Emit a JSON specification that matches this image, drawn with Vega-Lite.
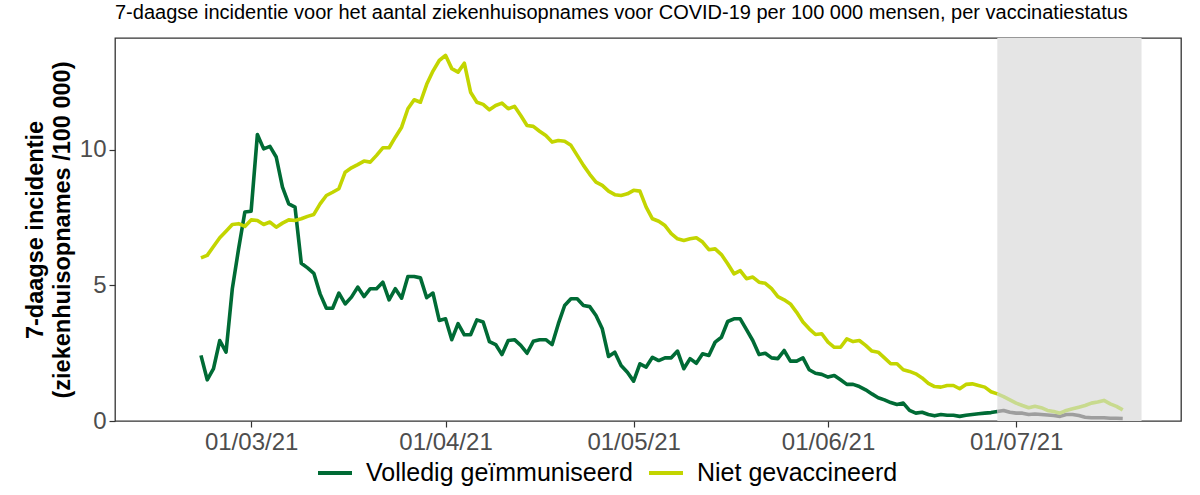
{
  "$schema": "https://vega.github.io/schema/vega-lite/v6.json",
  "width": 1066,
  "height": 383,
  "autosize": {"type": "none"},
  "padding": {"left": 115, "top": 38, "right": 19, "bottom": 74},
  "background": "white",
  "config": {
    "font": "Liberation Sans",
    "view": {"stroke": "#333333", "strokeWidth": 1.3},
    "axis": {"grid": false, "domain": false, "tickColor": "#333333", "tickSize": 6, "tickWidth": 1.2, "labelColor": "#4d4d4d", "labelFontSize": 24, "labelFont": "Liberation Sans"}
  },
  "title": {"text": "7-daagse incidentie voor het aantal ziekenhuisopnames voor COVID-19 per 100 000 mensen, per vaccinatiestatus", "anchor": "start", "frame": "group", "fontSize": 20, "fontWeight": "normal", "color": "#000000", "offset": 15, "font": "Liberation Sans"},
  "datasets": {
    "schaduw": [{"start": "2021-06-28", "eind": "2021-07-21"}],
    "reeksen": [
      {"datum": "2021-02-21", "status": "Volledig geïmmuniseerd", "waarde": 2.42},
      {"datum": "2021-02-22", "status": "Volledig geïmmuniseerd", "waarde": 1.52},
      {"datum": "2021-02-23", "status": "Volledig geïmmuniseerd", "waarde": 1.93},
      {"datum": "2021-02-24", "status": "Volledig geïmmuniseerd", "waarde": 2.97},
      {"datum": "2021-02-25", "status": "Volledig geïmmuniseerd", "waarde": 2.54},
      {"datum": "2021-02-26", "status": "Volledig geïmmuniseerd", "waarde": 4.88},
      {"datum": "2021-02-27", "status": "Volledig geïmmuniseerd", "waarde": 6.35},
      {"datum": "2021-02-28", "status": "Volledig geïmmuniseerd", "waarde": 7.71},
      {"datum": "2021-03-01", "status": "Volledig geïmmuniseerd", "waarde": 7.74},
      {"datum": "2021-03-02", "status": "Volledig geïmmuniseerd", "waarde": 10.57},
      {"datum": "2021-03-03", "status": "Volledig geïmmuniseerd", "waarde": 10.04},
      {"datum": "2021-03-04", "status": "Volledig geïmmuniseerd", "waarde": 10.13},
      {"datum": "2021-03-05", "status": "Volledig geïmmuniseerd", "waarde": 9.74},
      {"datum": "2021-03-06", "status": "Volledig geïmmuniseerd", "waarde": 8.63},
      {"datum": "2021-03-07", "status": "Volledig geïmmuniseerd", "waarde": 8.01},
      {"datum": "2021-03-08", "status": "Volledig geïmmuniseerd", "waarde": 7.89},
      {"datum": "2021-03-09", "status": "Volledig geïmmuniseerd", "waarde": 5.82},
      {"datum": "2021-03-10", "status": "Volledig geïmmuniseerd", "waarde": 5.65},
      {"datum": "2021-03-11", "status": "Volledig geïmmuniseerd", "waarde": 5.45},
      {"datum": "2021-03-12", "status": "Volledig geïmmuniseerd", "waarde": 4.69},
      {"datum": "2021-03-13", "status": "Volledig geïmmuniseerd", "waarde": 4.16},
      {"datum": "2021-03-14", "status": "Volledig geïmmuniseerd", "waarde": 4.16},
      {"datum": "2021-03-15", "status": "Volledig geïmmuniseerd", "waarde": 4.72},
      {"datum": "2021-03-16", "status": "Volledig geïmmuniseerd", "waarde": 4.32},
      {"datum": "2021-03-17", "status": "Volledig geïmmuniseerd", "waarde": 4.57},
      {"datum": "2021-03-18", "status": "Volledig geïmmuniseerd", "waarde": 4.94},
      {"datum": "2021-03-19", "status": "Volledig geïmmuniseerd", "waarde": 4.59},
      {"datum": "2021-03-20", "status": "Volledig geïmmuniseerd", "waarde": 4.88},
      {"datum": "2021-03-21", "status": "Volledig geïmmuniseerd", "waarde": 4.88},
      {"datum": "2021-03-22", "status": "Volledig geïmmuniseerd", "waarde": 5.12},
      {"datum": "2021-03-23", "status": "Volledig geïmmuniseerd", "waarde": 4.47},
      {"datum": "2021-03-24", "status": "Volledig geïmmuniseerd", "waarde": 4.88},
      {"datum": "2021-03-25", "status": "Volledig geïmmuniseerd", "waarde": 4.53},
      {"datum": "2021-03-26", "status": "Volledig geïmmuniseerd", "waarde": 5.33},
      {"datum": "2021-03-27", "status": "Volledig geïmmuniseerd", "waarde": 5.33},
      {"datum": "2021-03-28", "status": "Volledig geïmmuniseerd", "waarde": 5.28},
      {"datum": "2021-03-29", "status": "Volledig geïmmuniseerd", "waarde": 4.55},
      {"datum": "2021-03-30", "status": "Volledig geïmmuniseerd", "waarde": 4.72},
      {"datum": "2021-03-31", "status": "Volledig geïmmuniseerd", "waarde": 3.71},
      {"datum": "2021-04-01", "status": "Volledig geïmmuniseerd", "waarde": 3.77},
      {"datum": "2021-04-02", "status": "Volledig geïmmuniseerd", "waarde": 3.00},
      {"datum": "2021-04-03", "status": "Volledig geïmmuniseerd", "waarde": 3.59},
      {"datum": "2021-04-04", "status": "Volledig geïmmuniseerd", "waarde": 3.18},
      {"datum": "2021-04-05", "status": "Volledig geïmmuniseerd", "waarde": 3.18},
      {"datum": "2021-04-06", "status": "Volledig geïmmuniseerd", "waarde": 3.73},
      {"datum": "2021-04-07", "status": "Volledig geïmmuniseerd", "waarde": 3.65},
      {"datum": "2021-04-08", "status": "Volledig geïmmuniseerd", "waarde": 2.93},
      {"datum": "2021-04-09", "status": "Volledig geïmmuniseerd", "waarde": 2.82},
      {"datum": "2021-04-10", "status": "Volledig geïmmuniseerd", "waarde": 2.45},
      {"datum": "2021-04-11", "status": "Volledig geïmmuniseerd", "waarde": 2.97},
      {"datum": "2021-04-12", "status": "Volledig geïmmuniseerd", "waarde": 3.00},
      {"datum": "2021-04-13", "status": "Volledig geïmmuniseerd", "waarde": 2.79},
      {"datum": "2021-04-14", "status": "Volledig geïmmuniseerd", "waarde": 2.50},
      {"datum": "2021-04-15", "status": "Volledig geïmmuniseerd", "waarde": 2.94},
      {"datum": "2021-04-16", "status": "Volledig geïmmuniseerd", "waarde": 3.00},
      {"datum": "2021-04-17", "status": "Volledig geïmmuniseerd", "waarde": 3.00},
      {"datum": "2021-04-18", "status": "Volledig geïmmuniseerd", "waarde": 2.82},
      {"datum": "2021-04-19", "status": "Volledig geïmmuniseerd", "waarde": 3.59},
      {"datum": "2021-04-20", "status": "Volledig geïmmuniseerd", "waarde": 4.26},
      {"datum": "2021-04-21", "status": "Volledig geïmmuniseerd", "waarde": 4.51},
      {"datum": "2021-04-22", "status": "Volledig geïmmuniseerd", "waarde": 4.51},
      {"datum": "2021-04-23", "status": "Volledig geïmmuniseerd", "waarde": 4.26},
      {"datum": "2021-04-24", "status": "Volledig geïmmuniseerd", "waarde": 4.22},
      {"datum": "2021-04-25", "status": "Volledig geïmmuniseerd", "waarde": 3.89},
      {"datum": "2021-04-26", "status": "Volledig geïmmuniseerd", "waarde": 3.40},
      {"datum": "2021-04-27", "status": "Volledig geïmmuniseerd", "waarde": 2.38},
      {"datum": "2021-04-28", "status": "Volledig geïmmuniseerd", "waarde": 2.54},
      {"datum": "2021-04-29", "status": "Volledig geïmmuniseerd", "waarde": 2.05},
      {"datum": "2021-04-30", "status": "Volledig geïmmuniseerd", "waarde": 1.80},
      {"datum": "2021-05-01", "status": "Volledig geïmmuniseerd", "waarde": 1.47},
      {"datum": "2021-05-02", "status": "Volledig geïmmuniseerd", "waarde": 2.11},
      {"datum": "2021-05-03", "status": "Volledig geïmmuniseerd", "waarde": 1.99},
      {"datum": "2021-05-04", "status": "Volledig geïmmuniseerd", "waarde": 2.35},
      {"datum": "2021-05-05", "status": "Volledig geïmmuniseerd", "waarde": 2.23},
      {"datum": "2021-05-06", "status": "Volledig geïmmuniseerd", "waarde": 2.33},
      {"datum": "2021-05-07", "status": "Volledig geïmmuniseerd", "waarde": 2.33},
      {"datum": "2021-05-08", "status": "Volledig geïmmuniseerd", "waarde": 2.58},
      {"datum": "2021-05-09", "status": "Volledig geïmmuniseerd", "waarde": 1.93},
      {"datum": "2021-05-10", "status": "Volledig geïmmuniseerd", "waarde": 2.30},
      {"datum": "2021-05-11", "status": "Volledig geïmmuniseerd", "waarde": 2.13},
      {"datum": "2021-05-12", "status": "Volledig geïmmuniseerd", "waarde": 2.48},
      {"datum": "2021-05-13", "status": "Volledig geïmmuniseerd", "waarde": 2.42},
      {"datum": "2021-05-14", "status": "Volledig geïmmuniseerd", "waarde": 2.91},
      {"datum": "2021-05-15", "status": "Volledig geïmmuniseerd", "waarde": 3.09},
      {"datum": "2021-05-16", "status": "Volledig geïmmuniseerd", "waarde": 3.67},
      {"datum": "2021-05-17", "status": "Volledig geïmmuniseerd", "waarde": 3.77},
      {"datum": "2021-05-18", "status": "Volledig geïmmuniseerd", "waarde": 3.77},
      {"datum": "2021-05-19", "status": "Volledig geïmmuniseerd", "waarde": 3.37},
      {"datum": "2021-05-20", "status": "Volledig geïmmuniseerd", "waarde": 2.97},
      {"datum": "2021-05-21", "status": "Volledig geïmmuniseerd", "waarde": 2.45},
      {"datum": "2021-05-22", "status": "Volledig geïmmuniseerd", "waarde": 2.50},
      {"datum": "2021-05-23", "status": "Volledig geïmmuniseerd", "waarde": 2.33},
      {"datum": "2021-05-24", "status": "Volledig geïmmuniseerd", "waarde": 2.30},
      {"datum": "2021-05-25", "status": "Volledig geïmmuniseerd", "waarde": 2.60},
      {"datum": "2021-05-26", "status": "Volledig geïmmuniseerd", "waarde": 2.21},
      {"datum": "2021-05-27", "status": "Volledig geïmmuniseerd", "waarde": 2.21},
      {"datum": "2021-05-28", "status": "Volledig geïmmuniseerd", "waarde": 2.33},
      {"datum": "2021-05-29", "status": "Volledig geïmmuniseerd", "waarde": 1.89},
      {"datum": "2021-05-30", "status": "Volledig geïmmuniseerd", "waarde": 1.76},
      {"datum": "2021-05-31", "status": "Volledig geïmmuniseerd", "waarde": 1.72},
      {"datum": "2021-06-01", "status": "Volledig geïmmuniseerd", "waarde": 1.62},
      {"datum": "2021-06-02", "status": "Volledig geïmmuniseerd", "waarde": 1.68},
      {"datum": "2021-06-03", "status": "Volledig geïmmuniseerd", "waarde": 1.52},
      {"datum": "2021-06-04", "status": "Volledig geïmmuniseerd", "waarde": 1.35},
      {"datum": "2021-06-05", "status": "Volledig geïmmuniseerd", "waarde": 1.35},
      {"datum": "2021-06-06", "status": "Volledig geïmmuniseerd", "waarde": 1.27},
      {"datum": "2021-06-07", "status": "Volledig geïmmuniseerd", "waarde": 1.15},
      {"datum": "2021-06-08", "status": "Volledig geïmmuniseerd", "waarde": 1.00},
      {"datum": "2021-06-09", "status": "Volledig geïmmuniseerd", "waarde": 0.86},
      {"datum": "2021-06-10", "status": "Volledig geïmmuniseerd", "waarde": 0.78},
      {"datum": "2021-06-11", "status": "Volledig geïmmuniseerd", "waarde": 0.68},
      {"datum": "2021-06-12", "status": "Volledig geïmmuniseerd", "waarde": 0.61},
      {"datum": "2021-06-13", "status": "Volledig geïmmuniseerd", "waarde": 0.66},
      {"datum": "2021-06-14", "status": "Volledig geïmmuniseerd", "waarde": 0.39},
      {"datum": "2021-06-15", "status": "Volledig geïmmuniseerd", "waarde": 0.29},
      {"datum": "2021-06-16", "status": "Volledig geïmmuniseerd", "waarde": 0.32},
      {"datum": "2021-06-17", "status": "Volledig geïmmuniseerd", "waarde": 0.24},
      {"datum": "2021-06-18", "status": "Volledig geïmmuniseerd", "waarde": 0.19},
      {"datum": "2021-06-19", "status": "Volledig geïmmuniseerd", "waarde": 0.24},
      {"datum": "2021-06-20", "status": "Volledig geïmmuniseerd", "waarde": 0.21},
      {"datum": "2021-06-21", "status": "Volledig geïmmuniseerd", "waarde": 0.21},
      {"datum": "2021-06-22", "status": "Volledig geïmmuniseerd", "waarde": 0.17},
      {"datum": "2021-06-23", "status": "Volledig geïmmuniseerd", "waarde": 0.21},
      {"datum": "2021-06-24", "status": "Volledig geïmmuniseerd", "waarde": 0.24},
      {"datum": "2021-06-25", "status": "Volledig geïmmuniseerd", "waarde": 0.27},
      {"datum": "2021-06-26", "status": "Volledig geïmmuniseerd", "waarde": 0.29},
      {"datum": "2021-06-27", "status": "Volledig geïmmuniseerd", "waarde": 0.31},
      {"datum": "2021-06-28", "status": "Volledig geïmmuniseerd", "waarde": 0.35},
      {"datum": "2021-02-21", "status": "Niet gevaccineerd", "waarde": 6.02},
      {"datum": "2021-02-22", "status": "Niet gevaccineerd", "waarde": 6.11},
      {"datum": "2021-02-23", "status": "Niet gevaccineerd", "waarde": 6.44},
      {"datum": "2021-02-24", "status": "Niet gevaccineerd", "waarde": 6.76},
      {"datum": "2021-02-25", "status": "Niet gevaccineerd", "waarde": 7.00},
      {"datum": "2021-02-26", "status": "Niet gevaccineerd", "waarde": 7.25},
      {"datum": "2021-02-27", "status": "Niet gevaccineerd", "waarde": 7.28},
      {"datum": "2021-02-28", "status": "Niet gevaccineerd", "waarde": 7.18},
      {"datum": "2021-03-01", "status": "Niet gevaccineerd", "waarde": 7.42},
      {"datum": "2021-03-02", "status": "Niet gevaccineerd", "waarde": 7.40},
      {"datum": "2021-03-03", "status": "Niet gevaccineerd", "waarde": 7.25},
      {"datum": "2021-03-04", "status": "Niet gevaccineerd", "waarde": 7.34},
      {"datum": "2021-03-05", "status": "Niet gevaccineerd", "waarde": 7.15},
      {"datum": "2021-03-06", "status": "Niet gevaccineerd", "waarde": 7.30},
      {"datum": "2021-03-07", "status": "Niet gevaccineerd", "waarde": 7.42},
      {"datum": "2021-03-08", "status": "Niet gevaccineerd", "waarde": 7.40},
      {"datum": "2021-03-09", "status": "Niet gevaccineerd", "waarde": 7.46},
      {"datum": "2021-03-10", "status": "Niet gevaccineerd", "waarde": 7.55},
      {"datum": "2021-03-11", "status": "Niet gevaccineerd", "waarde": 7.62},
      {"datum": "2021-03-12", "status": "Niet gevaccineerd", "waarde": 8.01},
      {"datum": "2021-03-13", "status": "Niet gevaccineerd", "waarde": 8.32},
      {"datum": "2021-03-14", "status": "Niet gevaccineerd", "waarde": 8.44},
      {"datum": "2021-03-15", "status": "Niet gevaccineerd", "waarde": 8.57},
      {"datum": "2021-03-16", "status": "Niet gevaccineerd", "waarde": 9.18},
      {"datum": "2021-03-17", "status": "Niet gevaccineerd", "waarde": 9.34},
      {"datum": "2021-03-18", "status": "Niet gevaccineerd", "waarde": 9.46},
      {"datum": "2021-03-19", "status": "Niet gevaccineerd", "waarde": 9.59},
      {"datum": "2021-03-20", "status": "Niet gevaccineerd", "waarde": 9.55},
      {"datum": "2021-03-21", "status": "Niet gevaccineerd", "waarde": 9.80},
      {"datum": "2021-03-22", "status": "Niet gevaccineerd", "waarde": 10.08},
      {"datum": "2021-03-23", "status": "Niet gevaccineerd", "waarde": 10.08},
      {"datum": "2021-03-24", "status": "Niet gevaccineerd", "waarde": 10.47},
      {"datum": "2021-03-25", "status": "Niet gevaccineerd", "waarde": 10.84},
      {"datum": "2021-03-26", "status": "Niet gevaccineerd", "waarde": 11.52},
      {"datum": "2021-03-27", "status": "Niet gevaccineerd", "waarde": 11.85},
      {"datum": "2021-03-28", "status": "Niet gevaccineerd", "waarde": 11.76},
      {"datum": "2021-03-29", "status": "Niet gevaccineerd", "waarde": 12.42},
      {"datum": "2021-03-30", "status": "Niet gevaccineerd", "waarde": 12.91},
      {"datum": "2021-03-31", "status": "Niet gevaccineerd", "waarde": 13.30},
      {"datum": "2021-04-01", "status": "Niet gevaccineerd", "waarde": 13.49},
      {"datum": "2021-04-02", "status": "Niet gevaccineerd", "waarde": 13.00},
      {"datum": "2021-04-03", "status": "Niet gevaccineerd", "waarde": 12.87},
      {"datum": "2021-04-04", "status": "Niet gevaccineerd", "waarde": 13.20},
      {"datum": "2021-04-05", "status": "Niet gevaccineerd", "waarde": 12.13},
      {"datum": "2021-04-06", "status": "Niet gevaccineerd", "waarde": 11.76},
      {"datum": "2021-04-07", "status": "Niet gevaccineerd", "waarde": 11.68},
      {"datum": "2021-04-08", "status": "Niet gevaccineerd", "waarde": 11.48},
      {"datum": "2021-04-09", "status": "Niet gevaccineerd", "waarde": 11.64},
      {"datum": "2021-04-10", "status": "Niet gevaccineerd", "waarde": 11.73},
      {"datum": "2021-04-11", "status": "Niet gevaccineerd", "waarde": 11.52},
      {"datum": "2021-04-12", "status": "Niet gevaccineerd", "waarde": 11.61},
      {"datum": "2021-04-13", "status": "Niet gevaccineerd", "waarde": 11.27},
      {"datum": "2021-04-14", "status": "Niet gevaccineerd", "waarde": 10.90},
      {"datum": "2021-04-15", "status": "Niet gevaccineerd", "waarde": 10.87},
      {"datum": "2021-04-16", "status": "Niet gevaccineerd", "waarde": 10.69},
      {"datum": "2021-04-17", "status": "Niet gevaccineerd", "waarde": 10.53},
      {"datum": "2021-04-18", "status": "Niet gevaccineerd", "waarde": 10.29},
      {"datum": "2021-04-19", "status": "Niet gevaccineerd", "waarde": 10.35},
      {"datum": "2021-04-20", "status": "Niet gevaccineerd", "waarde": 10.32},
      {"datum": "2021-04-21", "status": "Niet gevaccineerd", "waarde": 10.17},
      {"datum": "2021-04-22", "status": "Niet gevaccineerd", "waarde": 9.80},
      {"datum": "2021-04-23", "status": "Niet gevaccineerd", "waarde": 9.43},
      {"datum": "2021-04-24", "status": "Niet gevaccineerd", "waarde": 9.10},
      {"datum": "2021-04-25", "status": "Niet gevaccineerd", "waarde": 8.81},
      {"datum": "2021-04-26", "status": "Niet gevaccineerd", "waarde": 8.69},
      {"datum": "2021-04-27", "status": "Niet gevaccineerd", "waarde": 8.48},
      {"datum": "2021-04-28", "status": "Niet gevaccineerd", "waarde": 8.35},
      {"datum": "2021-04-29", "status": "Niet gevaccineerd", "waarde": 8.32},
      {"datum": "2021-04-30", "status": "Niet gevaccineerd", "waarde": 8.38},
      {"datum": "2021-05-01", "status": "Niet gevaccineerd", "waarde": 8.51},
      {"datum": "2021-05-02", "status": "Niet gevaccineerd", "waarde": 8.48},
      {"datum": "2021-05-03", "status": "Niet gevaccineerd", "waarde": 7.89},
      {"datum": "2021-05-04", "status": "Niet gevaccineerd", "waarde": 7.46},
      {"datum": "2021-05-05", "status": "Niet gevaccineerd", "waarde": 7.37},
      {"datum": "2021-05-06", "status": "Niet gevaccineerd", "waarde": 7.21},
      {"datum": "2021-05-07", "status": "Niet gevaccineerd", "waarde": 6.91},
      {"datum": "2021-05-08", "status": "Niet gevaccineerd", "waarde": 6.72},
      {"datum": "2021-05-09", "status": "Niet gevaccineerd", "waarde": 6.66},
      {"datum": "2021-05-10", "status": "Niet gevaccineerd", "waarde": 6.72},
      {"datum": "2021-05-11", "status": "Niet gevaccineerd", "waarde": 6.76},
      {"datum": "2021-05-12", "status": "Niet gevaccineerd", "waarde": 6.60},
      {"datum": "2021-05-13", "status": "Niet gevaccineerd", "waarde": 6.32},
      {"datum": "2021-05-14", "status": "Niet gevaccineerd", "waarde": 6.35},
      {"datum": "2021-05-15", "status": "Niet gevaccineerd", "waarde": 6.14},
      {"datum": "2021-05-16", "status": "Niet gevaccineerd", "waarde": 5.80},
      {"datum": "2021-05-17", "status": "Niet gevaccineerd", "waarde": 5.43},
      {"datum": "2021-05-18", "status": "Niet gevaccineerd", "waarde": 5.55},
      {"datum": "2021-05-19", "status": "Niet gevaccineerd", "waarde": 5.25},
      {"datum": "2021-05-20", "status": "Niet gevaccineerd", "waarde": 5.31},
      {"datum": "2021-05-21", "status": "Niet gevaccineerd", "waarde": 5.12},
      {"datum": "2021-05-22", "status": "Niet gevaccineerd", "waarde": 5.08},
      {"datum": "2021-05-23", "status": "Niet gevaccineerd", "waarde": 4.88},
      {"datum": "2021-05-24", "status": "Niet gevaccineerd", "waarde": 4.59},
      {"datum": "2021-05-25", "status": "Niet gevaccineerd", "waarde": 4.47},
      {"datum": "2021-05-26", "status": "Niet gevaccineerd", "waarde": 4.32},
      {"datum": "2021-05-27", "status": "Niet gevaccineerd", "waarde": 4.01},
      {"datum": "2021-05-28", "status": "Niet gevaccineerd", "waarde": 3.65},
      {"datum": "2021-05-29", "status": "Niet gevaccineerd", "waarde": 3.40},
      {"datum": "2021-05-30", "status": "Niet gevaccineerd", "waarde": 3.19},
      {"datum": "2021-05-31", "status": "Niet gevaccineerd", "waarde": 3.22},
      {"datum": "2021-06-01", "status": "Niet gevaccineerd", "waarde": 2.91},
      {"datum": "2021-06-02", "status": "Niet gevaccineerd", "waarde": 2.72},
      {"datum": "2021-06-03", "status": "Niet gevaccineerd", "waarde": 2.72},
      {"datum": "2021-06-04", "status": "Niet gevaccineerd", "waarde": 3.03},
      {"datum": "2021-06-05", "status": "Niet gevaccineerd", "waarde": 2.93},
      {"datum": "2021-06-06", "status": "Niet gevaccineerd", "waarde": 2.97},
      {"datum": "2021-06-07", "status": "Niet gevaccineerd", "waarde": 2.79},
      {"datum": "2021-06-08", "status": "Niet gevaccineerd", "waarde": 2.58},
      {"datum": "2021-06-09", "status": "Niet gevaccineerd", "waarde": 2.54},
      {"datum": "2021-06-10", "status": "Niet gevaccineerd", "waarde": 2.33},
      {"datum": "2021-06-11", "status": "Niet gevaccineerd", "waarde": 2.11},
      {"datum": "2021-06-12", "status": "Niet gevaccineerd", "waarde": 2.11},
      {"datum": "2021-06-13", "status": "Niet gevaccineerd", "waarde": 1.89},
      {"datum": "2021-06-14", "status": "Niet gevaccineerd", "waarde": 1.83},
      {"datum": "2021-06-15", "status": "Niet gevaccineerd", "waarde": 1.74},
      {"datum": "2021-06-16", "status": "Niet gevaccineerd", "waarde": 1.59},
      {"datum": "2021-06-17", "status": "Niet gevaccineerd", "waarde": 1.39},
      {"datum": "2021-06-18", "status": "Niet gevaccineerd", "waarde": 1.27},
      {"datum": "2021-06-19", "status": "Niet gevaccineerd", "waarde": 1.25},
      {"datum": "2021-06-20", "status": "Niet gevaccineerd", "waarde": 1.31},
      {"datum": "2021-06-21", "status": "Niet gevaccineerd", "waarde": 1.31},
      {"datum": "2021-06-22", "status": "Niet gevaccineerd", "waarde": 1.19},
      {"datum": "2021-06-23", "status": "Niet gevaccineerd", "waarde": 1.35},
      {"datum": "2021-06-24", "status": "Niet gevaccineerd", "waarde": 1.37},
      {"datum": "2021-06-25", "status": "Niet gevaccineerd", "waarde": 1.31},
      {"datum": "2021-06-26", "status": "Niet gevaccineerd", "waarde": 1.25},
      {"datum": "2021-06-27", "status": "Niet gevaccineerd", "waarde": 1.08},
      {"datum": "2021-06-28", "status": "Niet gevaccineerd", "waarde": 1.00},
      {"datum": "2021-06-28", "status": "Volledig geïmmuniseerd (voorlopig)", "waarde": 0.35},
      {"datum": "2021-06-29", "status": "Volledig geïmmuniseerd (voorlopig)", "waarde": 0.39},
      {"datum": "2021-06-30", "status": "Volledig geïmmuniseerd (voorlopig)", "waarde": 0.32},
      {"datum": "2021-07-01", "status": "Volledig geïmmuniseerd (voorlopig)", "waarde": 0.29},
      {"datum": "2021-07-02", "status": "Volledig geïmmuniseerd (voorlopig)", "waarde": 0.29},
      {"datum": "2021-07-03", "status": "Volledig geïmmuniseerd (voorlopig)", "waarde": 0.24},
      {"datum": "2021-07-04", "status": "Volledig geïmmuniseerd (voorlopig)", "waarde": 0.26},
      {"datum": "2021-07-05", "status": "Volledig geïmmuniseerd (voorlopig)", "waarde": 0.24},
      {"datum": "2021-07-06", "status": "Volledig geïmmuniseerd (voorlopig)", "waarde": 0.22},
      {"datum": "2021-07-07", "status": "Volledig geïmmuniseerd (voorlopig)", "waarde": 0.20},
      {"datum": "2021-07-08", "status": "Volledig geïmmuniseerd (voorlopig)", "waarde": 0.17},
      {"datum": "2021-07-09", "status": "Volledig geïmmuniseerd (voorlopig)", "waarde": 0.24},
      {"datum": "2021-07-10", "status": "Volledig geïmmuniseerd (voorlopig)", "waarde": 0.24},
      {"datum": "2021-07-11", "status": "Volledig geïmmuniseerd (voorlopig)", "waarde": 0.20},
      {"datum": "2021-07-12", "status": "Volledig geïmmuniseerd (voorlopig)", "waarde": 0.14},
      {"datum": "2021-07-13", "status": "Volledig geïmmuniseerd (voorlopig)", "waarde": 0.12},
      {"datum": "2021-07-14", "status": "Volledig geïmmuniseerd (voorlopig)", "waarde": 0.12},
      {"datum": "2021-07-15", "status": "Volledig geïmmuniseerd (voorlopig)", "waarde": 0.12},
      {"datum": "2021-07-16", "status": "Volledig geïmmuniseerd (voorlopig)", "waarde": 0.10},
      {"datum": "2021-07-17", "status": "Volledig geïmmuniseerd (voorlopig)", "waarde": 0.10},
      {"datum": "2021-07-18", "status": "Volledig geïmmuniseerd (voorlopig)", "waarde": 0.09},
      {"datum": "2021-06-28", "status": "Niet gevaccineerd (voorlopig)", "waarde": 1.00},
      {"datum": "2021-06-29", "status": "Niet gevaccineerd (voorlopig)", "waarde": 0.90},
      {"datum": "2021-06-30", "status": "Niet gevaccineerd (voorlopig)", "waarde": 0.78},
      {"datum": "2021-07-01", "status": "Niet gevaccineerd (voorlopig)", "waarde": 0.66},
      {"datum": "2021-07-02", "status": "Niet gevaccineerd (voorlopig)", "waarde": 0.57},
      {"datum": "2021-07-03", "status": "Niet gevaccineerd (voorlopig)", "waarde": 0.49},
      {"datum": "2021-07-04", "status": "Niet gevaccineerd (voorlopig)", "waarde": 0.54},
      {"datum": "2021-07-05", "status": "Niet gevaccineerd (voorlopig)", "waarde": 0.49},
      {"datum": "2021-07-06", "status": "Niet gevaccineerd (voorlopig)", "waarde": 0.39},
      {"datum": "2021-07-07", "status": "Niet gevaccineerd (voorlopig)", "waarde": 0.35},
      {"datum": "2021-07-08", "status": "Niet gevaccineerd (voorlopig)", "waarde": 0.29},
      {"datum": "2021-07-09", "status": "Niet gevaccineerd (voorlopig)", "waarde": 0.39},
      {"datum": "2021-07-10", "status": "Niet gevaccineerd (voorlopig)", "waarde": 0.45},
      {"datum": "2021-07-11", "status": "Niet gevaccineerd (voorlopig)", "waarde": 0.51},
      {"datum": "2021-07-12", "status": "Niet gevaccineerd (voorlopig)", "waarde": 0.57},
      {"datum": "2021-07-13", "status": "Niet gevaccineerd (voorlopig)", "waarde": 0.66},
      {"datum": "2021-07-14", "status": "Niet gevaccineerd (voorlopig)", "waarde": 0.70},
      {"datum": "2021-07-15", "status": "Niet gevaccineerd (voorlopig)", "waarde": 0.76},
      {"datum": "2021-07-16", "status": "Niet gevaccineerd (voorlopig)", "waarde": 0.63},
      {"datum": "2021-07-17", "status": "Niet gevaccineerd (voorlopig)", "waarde": 0.54},
      {"datum": "2021-07-18", "status": "Niet gevaccineerd (voorlopig)", "waarde": 0.41}
    ]
  },
  "layer": [
    {
      "data": {"name": "schaduw"},
      "mark": {"type": "rect", "color": "#e5e5e5"},
      "encoding": {
        "x": {"field": "start", "type": "temporal", "title": null},
        "x2": {"field": "eind"}
      }
    },
    {
      "data": {"name": "reeksen"},
      "mark": {"type": "line", "strokeWidth": 3.6, "strokeJoin": "round"},
      "encoding": {
        "x": {
          "field": "datum", "type": "temporal", "title": null,
          "scale": {"type": "utc", "domain": [1612681200000, 1627369200000], "nice": false},
          "axis": {"values": [1614556800000, 1617235200000, 1619827200000, 1622505600000, 1625097600000], "format": "%d/%m/%y", "labelPadding": 3, "labelFlush": false, "labelOverlap": false}
        },
        "y": {
          "field": "waarde", "type": "quantitative",
          "scale": {"domain": [0, 14.13], "nice": false, "zero": false},
          "axis": {"values": [0, 5, 10], "labelPadding": 3, "title": ["7-daagse incidentie", "(ziekenhuisopnames /100 000)"], "titleFontSize": 23.5, "titleFontWeight": "bold", "titleColor": "#000000", "titleLineHeight": 27, "titleAngle": -90, "titleX": -80, "titleY": 191.5, "titleAlign": "center", "titleBaseline": "middle", "titleFont": "Liberation Sans"}
        },
        "color": {
          "field": "status", "type": "nominal",
          "scale": {"domain": ["Volledig geïmmuniseerd", "Niet gevaccineerd", "Volledig geïmmuniseerd (voorlopig)", "Niet gevaccineerd (voorlopig)"], "range": ["#006b35", "#c3d500", "#9e9e9e", "#c8da8e"]},
          "legend": {"values": ["Volledig geïmmuniseerd", "Niet gevaccineerd"], "orient": "none", "direction": "horizontal", "legendX": 201, "legendY": 416, "title": null, "symbolType": "stroke", "symbolSize": 1156, "symbolStrokeWidth": 4, "labelFontSize": 25, "labelColor": "#000000", "labelOffset": 12, "columnPadding": 8, "padding": 0, "labelFont": "Liberation Sans", "labelLimit": 0}
        }
      }
    }
  ]
}
